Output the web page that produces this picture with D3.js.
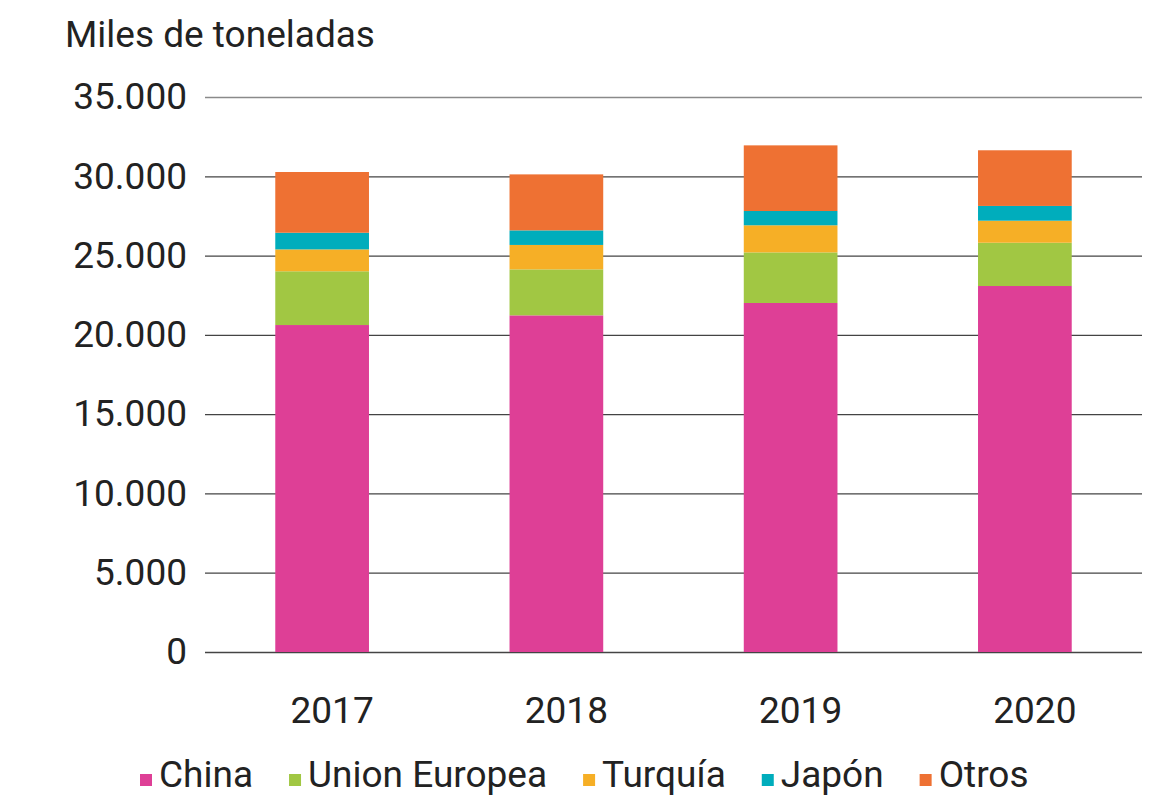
<!DOCTYPE html>
<html>
<head>
<meta charset="utf-8">
<script src="https://cdn.jsdelivr.net/npm/d3@7"></script>
<style>
  body { margin: 0; background: #fff; }
  text { font-family: Roboto, "Noto Sans", sans-serif; fill: #222; }
</style>
</head>
<body>
<div id="chart"></div>
<script>
const years = ["2017", "2018", "2019", "2020"];
const series = ["China", "Union Europea", "Turquía", "Japón", "Otros"];
const china = [20620, 21230, 22010, 23080];
const unionEuropea = [3390, 2900, 3190, 2730];
const turquia = [1380, 1540, 1710, 1390];
const japon = [1050, 920, 900, 930];
const otros = [3830, 3530, 4140, 3510];
const yTicks = [0, 5000, 10000, 15000, 20000, 25000, 30000, 35000];
const colors = ["#de3f96", "#a1c743", "#f6af26", "#00adbc", "#ee7133"];

const width = 1162, height = 796;
const margin = {top: 97, right: 20, bottom: 144, left: 205};

const svg = d3.select("#chart").append("svg")
  .attr("width", width)
  .attr("height", height);

const rows = years.map((y, i) => ({
  year: y,
  "China": china[i],
  "Union Europea": unionEuropea[i],
  "Turquía": turquia[i],
  "Japón": japon[i],
  "Otros": otros[i]
}));
const stacked = d3.stack().keys(series)(rows);

const x = d3.scaleBand()
  .domain(years)
  .range([margin.left, width - margin.right])
  .paddingInner(0.6)
  .paddingOuter(0.3);

const y = d3.scaleLinear()
  .domain([0, 35000])
  .range([height - margin.bottom, margin.top]);

// gridlines + y labels
const fmt = v => d3.format(",")(v).replace(/,/g, ".");
const yAxis = svg.append("g")
  .attr("transform", "translate(" + margin.left + ",0)")
  .call(d3.axisLeft(y).tickValues(yTicks).tickFormat(fmt)
    .tickSize(-(width - margin.left - margin.right)).tickPadding(18));
yAxis.select(".domain").remove();
yAxis.selectAll(".tick line")
  .attr("stroke", d => d === 35000 ? "#8a8a8a" : "#444")
  .attr("stroke-width", 1.3);
yAxis.selectAll(".tick text")
  .style("font-size", "37px")
  .attr("fill", "#222");

// bars
svg.append("g").selectAll("g")
  .data(stacked)
  .join("g")
    .attr("fill", (d, i) => colors[i])
  .selectAll("rect")
  .data(d => d)
  .join("rect")
    .attr("x", d => x(d.data.year))
    .attr("y", d => y(d[1]))
    .attr("width", x.bandwidth())
    .attr("height", d => y(d[0]) - y(d[1]));

// x labels (sit a bit right of bar centre in the original)
const xAxis = svg.append("g")
  .attr("transform", "translate(0," + (height - margin.bottom) + ")")
  .call(d3.axisBottom(x).tickSize(0).tickPadding(45));
xAxis.select(".domain").remove();
xAxis.selectAll(".tick text")
  .attr("dx", 10)
  .style("font-size", "37px")
  .attr("fill", "#222");

// title
svg.append("text")
  .attr("x", 65)
  .attr("y", 47)
  .style("font-size", "37px")
  .text("Miles de toneladas");

// legend
const legend = svg.append("g").attr("transform", "translate(140,787)");
let lx = 0;
series.forEach((s, i) => {
  const g = legend.append("g").attr("transform", "translate(" + lx + ",0)");
  g.append("rect")
    .attr("x", 0).attr("y", -13)
    .attr("width", 12).attr("height", 12)
    .attr("fill", colors[i]);
  const t = g.append("text")
    .attr("x", 19).attr("y", 0)
    .style("font-size", "37px")
    .text(s);
  lx += 19 + t.node().getComputedTextLength() + 36;
});
</script>
</body>
</html>
